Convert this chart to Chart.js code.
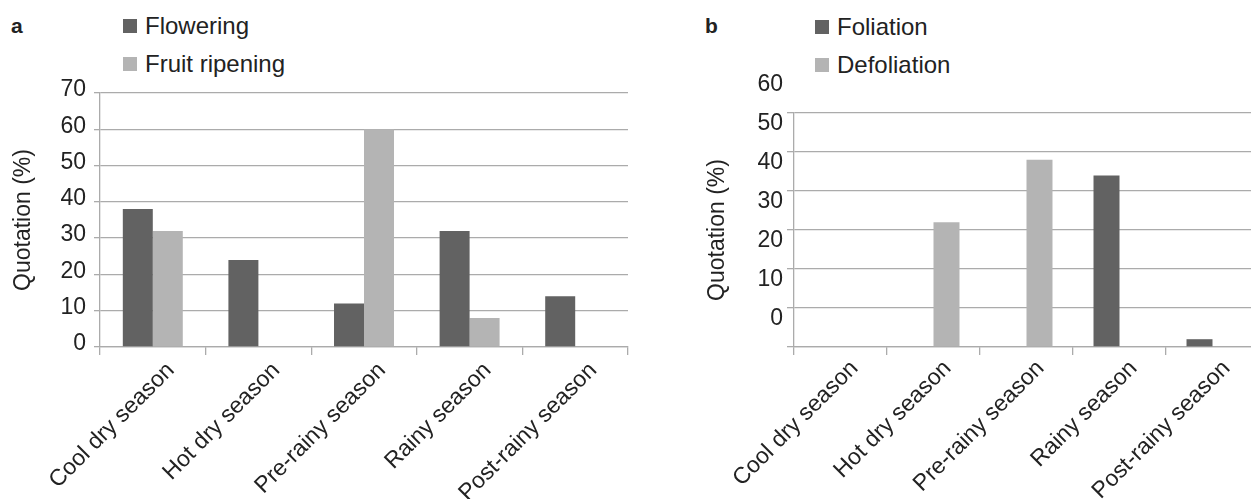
<!DOCTYPE html>
<html>
<head>
<meta charset="utf-8">
<script src="https://cdn.jsdelivr.net/npm/chart.js@4.4.1/dist/chart.umd.min.js"></script>
<style>
  html, body { margin: 0; padding: 0; background: #fff; overflow: hidden; }
  body { width: 1251px; height: 499px; position: relative; font-family: "Liberation Sans", Arial, sans-serif; color: #222; }
  canvas { position: absolute; top: 0; }
  .panel { position: absolute; font-weight: bold; font-size: 21px; line-height: 21px; }
  .leg { position: absolute; font-size: 24px; line-height: 24px; white-space: nowrap; }
  .leg i { display: inline-block; width: 14px; height: 14px; margin-right: 8px; vertical-align: 1px; }
</style>
</head>
<body>
<div class="panel" style="left:11px; top:15px;">a</div>
<div class="panel" style="left:705px; top:15px;">b</div>

<div class="leg" style="left:123px; top:14px;"><i style="background:#626262"></i>Flowering</div>
<div class="leg" style="left:123px; top:52px;"><i style="background:#b4b4b4"></i>Fruit ripening</div>
<div class="leg" style="left:815px; top:15px;"><i style="background:#626262"></i>Foliation</div>
<div class="leg" style="left:815px; top:53px;"><i style="background:#b4b4b4"></i>Defoliation</div>

<canvas id="chartA" width="640" height="499" style="left:0px"></canvas>
<canvas id="chartB" width="610" height="499" style="left:660px"></canvas>

<script>
const seasons = ["Cool dry season", "Hot dry season", "Pre-rainy season", "Rainy season", "Post-rainy season"];

// panel a
const flowering = [38, 24, 12, 32, 14];
const fruitRipening = [32, 0, 60, 8, 0];
const ticksA = [0, 10, 20, 30, 40, 50, 60, 70];

// panel b
const foliation = [0, 0, 0, 44, 2];
const defoliation = [0, 32, 48, 0, 0];
const ticksB = [0, 10, 20, 30, 40, 50, 60];

const dark = "#626262";
const light = "#b4b4b4";
const gridCol = "#ababab";
const font = { family: "Liberation Sans", size: 23 };

function makeChart(id, s1, s2, tickVals, opts) {
  return new Chart(document.getElementById(id), {
    type: "bar",
    data: {
      labels: seasons,
      datasets: [
        { data: s1, backgroundColor: dark, barPercentage: 1, categoryPercentage: opts.catPct },
        { data: s2, backgroundColor: light, barPercentage: 1, categoryPercentage: opts.catPct }
      ]
    },
    options: {
      responsive: false,
      animation: false,
      layout: { padding: { left: 0, top: opts.top, right: opts.right, bottom: 0 } },
      plugins: { legend: { display: false }, tooltip: { enabled: false } },
      scales: {
        x: {
          grid: { drawOnChartArea: false, color: gridCol, tickLength: 8, lineWidth: 1.3 },
          border: { color: gridCol, width: 1.3 },
          ticks: { font: font, color: "#222", minRotation: 45, maxRotation: 45, autoSkip: false, padding: opts.xPad, labelOffset: opts.xOff },
          afterFit: s => { s.height = 499 - 347; }
        },
        y: {
          min: tickVals[0],
          max: tickVals[tickVals.length - 1],
          afterBuildTicks: s => { s.ticks = tickVals.map(v => ({ value: v })); },
          grid: { color: gridCol, tickLength: opts.tickLen, lineWidth: 1.3 },
          border: { color: gridCol, width: 1.3 },
          ticks: { font: font, color: "#222", padding: opts.yPad, labelOffset: opts.yOff },
          title: { display: true, text: "Quotation (%)", font: font, color: "#222", padding: { top: opts.titlePad, bottom: 0 } },
          afterFit: s => { s.width = opts.yWidth; }
        }
      }
    }
  });
}

makeChart("chartA", flowering, fruitRipening, ticksA,
  { catPct: 0.568, top: 93, right: 12, yWidth: 100, tickLen: 6, yPad: 8, yOff: -3, xOff: 18, xPad: 2, titlePad: 10 });

makeChart("chartB", foliation, defoliation, ticksB,
  { catPct: 0.559, top: 113, right: 11, yWidth: 134, tickLen: 7, yPad: 4, yOff: -28, xOff: 14, xPad: 0, titlePad: 44 });
</script>
</body>
</html>
